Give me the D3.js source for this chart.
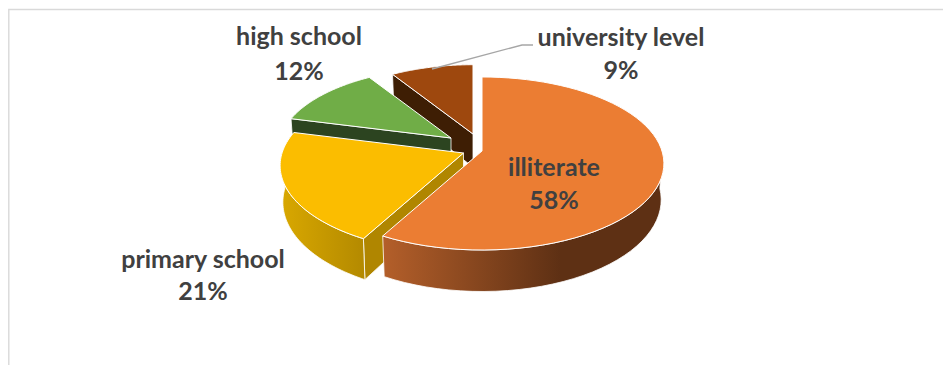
<!DOCTYPE html>
<html>
<head>
<meta charset="utf-8">
<script src="https://cdn.jsdelivr.net/npm/d3@7/dist/d3.min.js"></script>
<style>
html,body{margin:0;padding:0;background:#fff}
svg{display:block}
text{font-family:Lato,"Open Sans",sans-serif;font-weight:700;fill:#404040;font-size:25px;text-anchor:middle}
</style>
</head>
<body>
<svg id="chart" width="943" height="365"></svg>
<script>
// Education level shares
const categories = ["illiterate", "primary school", "high school", "university level"];
const shares = [58, 21, 12, 9];
const topColors = ["#eb7d33", "#fbbd00", "#70ad47", "#9e480e"];
const wallColors = ["#5e3014", "#b08600", "#2c4420", "#3e1e04"];
// Outer rim shading, from the left end of the front arc to the right
const rimLight = ["#b45f2a", "#d9a800", "#2c4420", "#3e1e04"];
const rimDark = ["#5e3014", "#b48a00", "#2c4420", "#3e1e04"];
// How far each slice is pulled out of the pie, in pixels
const pullX = [10, -8.5, -21, 1];
const pullY = [5, 7, -8, -12];
// Label anchors, [x, first baseline]
const labelX = [554, 203, 299, 621];
const labelY = [176, 268, 45, 46];
const labelLeading = [33, 32, 35, 33];

// Perspective projection of the tilted disc
const pieX = 472, pieY = 146;
const radiusX = 180, radiusY = 84.7, perspective = 0.1445, thickness = 35.5;
const bottomShrink = 0.985, depthFade = 0.004;

const svg = d3.select("#chart");
const defs = svg.append("defs");

// Chart frame: only the top and left edges show
svg.append("path").attr("d", "M8.8,365V9.5H943")
  .attr("fill", "none").attr("stroke", "#d9d9d9").attr("stroke-width", 1.4);

const arcs = d3.pie().sort(null).value(d => d)(shares);

const slices = arcs.map((a, i) => {
  const ax = pieX + pullX[i], ay = pieY + pullY[i];
  const s = 1 / (1 + depthFade * (pullY[0] - pullY[i]));
  const project = (t, low) => {
    const w = 1 + perspective * Math.cos(t);
    const x = radiusX * Math.sin(t) / w * s * (low ? bottomShrink : 1);
    const y = -radiusY * Math.cos(t) / w * s + (low ? thickness * s / w : 0);
    return [ax + x, ay + y];
  };
  const ts = d3.range(0, 65).map(k => a.startAngle + (a.endAngle - a.startAngle) * k / 64);
  return {i, a, ax, ay, s, project, ts, low: [ax, ay + thickness * s]};
});

const line = d3.line();
const drawOrder = [3, 2, 1, 0];

drawOrder.forEach(i => {
  const sl = slices[i];
  const g = svg.append("g").attr("class", "slice-" + i);

  // Cut wall along the slice's leading edge, when it faces the viewer
  if (Math.sin(sl.a.startAngle) < -0.01) {
    g.append("path")
      .attr("d", line([sl.project(sl.a.startAngle), [sl.ax, sl.ay], sl.low, sl.project(sl.a.startAngle, true)]) + "Z")
      .attr("fill", wallColors[i]).attr("stroke", "#fff").attr("stroke-width", 0.8);
  }

  // Curved outer wall, only the part facing the viewer
  if (i < 2) {
    const outer = sl.ts.filter(t => Math.cos(t) <= 0.02);
    const gid = "rim" + i;
    const xs = outer.map(t => sl.project(t)[0]);
    const grad = defs.append("linearGradient").attr("id", gid)
      .attr("gradientUnits", "userSpaceOnUse")
      .attr("x1", d3.min(xs)).attr("x2", i === 0 ? 560 : d3.max(xs)).attr("y1", 0).attr("y2", 0);
    grad.append("stop").attr("offset", 0).attr("stop-color", rimLight[i]);
    grad.append("stop").attr("offset", 1).attr("stop-color", rimDark[i]);
    const pts = outer.map(t => sl.project(t)).concat(outer.slice().reverse().map(t => sl.project(t, true)));
    g.append("path").attr("d", line(pts) + "Z")
      .attr("fill", `url(#${gid})`).attr("stroke", "#fff").attr("stroke-width", 0.8);
  }

  // Top face
  g.append("path")
    .attr("d", line([[sl.ax, sl.ay], ...sl.ts.map(t => sl.project(t))]) + "Z")
    .attr("fill", topColors[i]).attr("stroke", "#fff").attr("stroke-width", 1)
    .attr("stroke-linejoin", "round");
});

// Leader line to the university label
svg.append("polyline")
  .attr("points", "432,69 522,45 533,45")
  .attr("fill", "none").attr("stroke", "#a6a6a6").attr("stroke-width", 1.3);

// Category name above its percentage
categories.forEach((c, i) => {
  svg.append("text").attr("x", labelX[i]).attr("y", labelY[i]).text(c);
  svg.append("text").attr("x", labelX[i]).attr("y", labelY[i] + labelLeading[i]).text(shares[i] + "%");
});
</script>
</body>
</html>
